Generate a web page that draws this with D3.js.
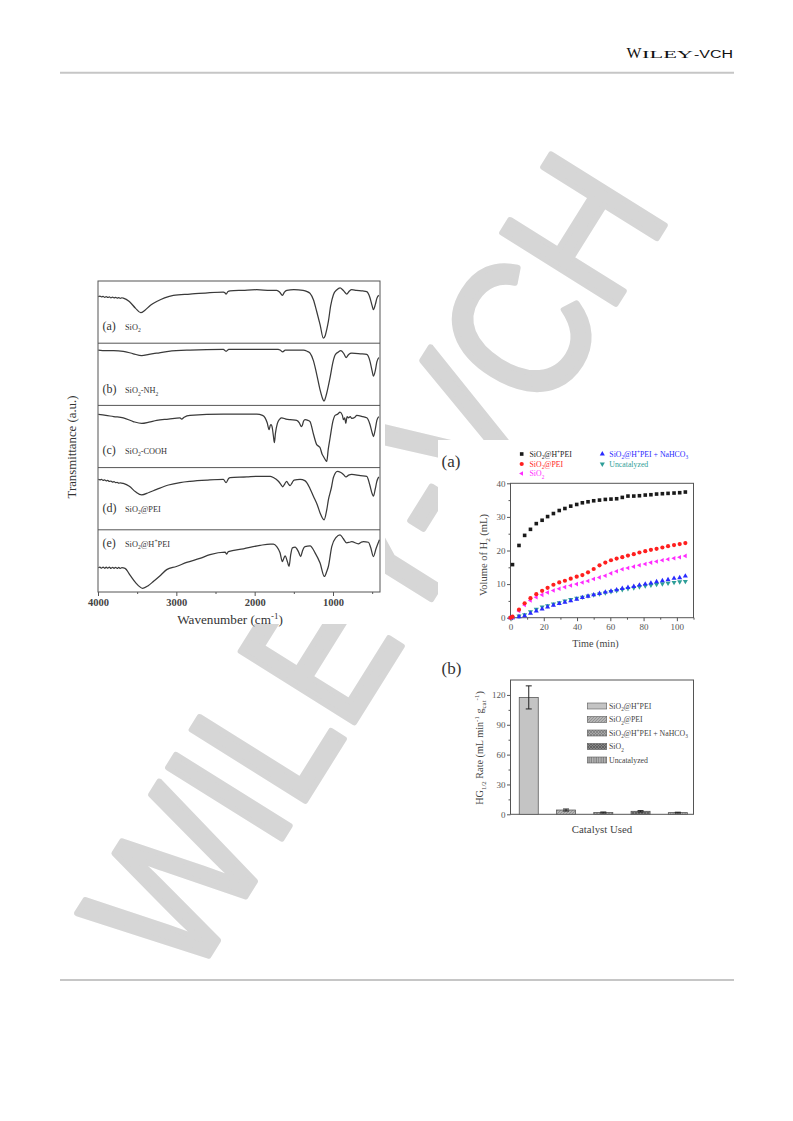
<!DOCTYPE html>
<html><head><meta charset="utf-8">
<script src="https://cdn.jsdelivr.net/npm/d3@7"></script>
<style>body{margin:0;background:#fff}svg{display:block}</style>
</head><body><div id="c"></div>
<script>
// ---------------- DATA ----------------
const ftirTags = ["(a)","(b)","(c)","(d)","(e)"];
const ftirNames = ["SiO_{2}","SiO_{2}-NH_{2}","SiO_{2}-COOH","SiO_{2}@PEI","SiO_{2}@H^{+}PEI"];
const ftirXTicks = [4000,3000,2000,1000];
const ftirMinorTicks = [3500,2500,1500,500];
// [wavenumber, relative transmittance within panel]
const specA = [[3996,0.75],[3975,0.757],[3955,0.745],[3935,0.752],[3915,0.738],[3895,0.748],[3875,0.735],[3855,0.744],[3835,0.73],[3815,0.74],[3795,0.728],[3775,0.737],[3755,0.725],[3735,0.733],[3715,0.722],[3695,0.73],[3677,0.725],[3600,0.67],[3520,0.56],[3455,0.49],[3400,0.53],[3330,0.61],[3251,0.67],[3150,0.73],[3038,0.77],[2825,0.79],[2600,0.81],[2400,0.82],[2380,0.81],[2365,0.79],[2340,0.83],[2314,0.84],[2150,0.85],[1974,0.86],[1800,0.85],[1718,0.85],[1680,0.82],[1646,0.77],[1620,0.82],[1590,0.85],[1500,0.86],[1382,0.85],[1330,0.83],[1293,0.80],[1250,0.70],[1208,0.51],[1165,0.30],[1123,0.08],[1100,0.12],[1080,0.22],[1059,0.35],[1030,0.60],[995,0.78],[950,0.86],[910,0.89],[870,0.85],[825,0.79],[790,0.84],[761,0.86],[700,0.85],[620,0.84],[570,0.83],[530,0.74],[500,0.60],[484,0.54],[460,0.62],[440,0.72],[416,0.77]];
const specB = [[3996,0.89],[3900,0.88],[3800,0.88],[3677,0.87],[3550,0.83],[3442,0.80],[3350,0.82],[3251,0.84],[3100,0.87],[2825,0.89],[2400,0.90],[2365,0.87],[2330,0.90],[1974,0.90],[1700,0.90],[1676,0.89],[1642,0.86],[1610,0.89],[1378,0.89],[1330,0.87],[1293,0.84],[1250,0.72],[1208,0.50],[1165,0.25],[1130,0.10],[1114,0.07],[1090,0.15],[1037,0.45],[1000,0.70],[973,0.81],[930,0.86],[901,0.88],[860,0.83],[833,0.77],[800,0.82],[761,0.84],[650,0.83],[569,0.82],[530,0.72],[500,0.55],[484,0.47],[460,0.56],[440,0.70],[416,0.77]];
const specC = [[3996,0.855],[3900,0.84],[3800,0.82],[3677,0.80],[3550,0.74],[3442,0.71],[3350,0.73],[3251,0.76],[3100,0.78],[2953,0.80],[2932,0.78],[2900,0.81],[2825,0.84],[2400,0.86],[1974,0.86],[1900,0.84],[1867,0.80],[1840,0.72],[1816,0.61],[1800,0.68],[1791,0.69],[1775,0.64],[1760,0.50],[1748,0.40],[1735,0.55],[1710,0.71],[1680,0.78],[1655,0.80],[1600,0.78],[1548,0.77],[1463,0.76],[1430,0.72],[1405,0.66],[1391,0.68],[1375,0.75],[1357,0.77],[1320,0.76],[1293,0.74],[1250,0.54],[1208,0.37],[1180,0.34],[1165,0.32],[1140,0.22],[1123,0.18],[1095,0.12],[1080,0.10],[1060,0.30],[1037,0.48],[1000,0.75],[973,0.84],[940,0.86],[910,0.89],[880,0.84],[867,0.77],[850,0.80],[837,0.71],[820,0.82],[803,0.80],[780,0.82],[761,0.79],[720,0.81],[697,0.84],[620,0.82],[569,0.80],[530,0.70],[500,0.56],[484,0.50],[460,0.62],[440,0.76],[416,0.82]];
const specD = [[3996,0.81],[3975,0.803],[3955,0.81],[3935,0.795],[3915,0.802],[3895,0.786],[3875,0.793],[3855,0.777],[3835,0.784],[3815,0.768],[3795,0.774],[3775,0.758],[3755,0.764],[3735,0.75],[3715,0.755],[3677,0.745],[3600,0.70],[3520,0.61],[3442,0.56],[3350,0.60],[3251,0.65],[3100,0.72],[2953,0.76],[2825,0.78],[2600,0.80],[2400,0.81],[2365,0.76],[2330,0.83],[2314,0.84],[2100,0.85],[1974,0.86],[1800,0.86],[1761,0.84],[1697,0.78],[1660,0.72],[1642,0.69],[1615,0.74],[1591,0.78],[1570,0.74],[1548,0.71],[1520,0.76],[1497,0.80],[1420,0.81],[1360,0.79],[1335,0.76],[1293,0.66],[1250,0.54],[1200,0.40],[1165,0.27],[1114,0.16],[1080,0.32],[1059,0.48],[1020,0.68],[995,0.84],[944,0.94],[900,0.92],[867,0.89],[833,0.85],[800,0.88],[761,0.89],[650,0.87],[569,0.86],[530,0.72],[500,0.58],[484,0.54],[460,0.66],[440,0.78],[416,0.85]];
const specE = [[3996,0.39],[3975,0.398],[3955,0.383],[3935,0.40],[3915,0.381],[3895,0.398],[3875,0.382],[3855,0.40],[3835,0.38],[3815,0.396],[3795,0.381],[3775,0.397],[3755,0.38],[3735,0.394],[3715,0.381],[3695,0.39],[3655,0.38],[3591,0.27],[3520,0.15],[3430,0.06],[3360,0.10],[3293,0.17],[3200,0.27],[3123,0.36],[3000,0.41],[2868,0.475],[2700,0.54],[2570,0.60],[2378,0.64],[2357,0.61],[2336,0.65],[2144,0.695],[1931,0.75],[1800,0.77],[1761,0.77],[1718,0.73],[1676,0.63],[1646,0.49],[1625,0.55],[1612,0.58],[1580,0.48],[1561,0.41],[1540,0.60],[1518,0.71],[1484,0.72],[1442,0.65],[1412,0.57],[1390,0.66],[1357,0.73],[1293,0.74],[1229,0.63],[1165,0.465],[1110,0.25],[1080,0.33],[1059,0.41],[1016,0.73],[960,0.88],[910,0.92],[870,0.86],[825,0.79],[790,0.80],[761,0.81],[676,0.775],[640,0.80],[612,0.81],[548,0.80],[520,0.72],[484,0.57],[450,0.70],[407,0.84]];

// H2 evolution (a)
const timeMin = [0,1.2,5.1,8.5,12,15.5,19,22.3,25.8,29.3,32.7,36.2,39.8,43.2,46.6,50,53.5,57,60.4,63.8,67.2,70.6,74.1,77.5,81,84.4,87.8,91.3,94.7,98.3,101.7,105.1];
const volHPEI = [null,15.8,21.5,24.5,26.3,28.0,29.0,30.1,31.0,31.9,32.5,33.2,33.7,34.2,34.5,34.8,35.0,35.2,35.3,35.4,35.8,36.2,36.2,36.3,36.5,36.6,36.8,36.9,37.0,37.1,37.2,37.4];
const volPEI = [0,0.3,2.4,4.3,5.8,7.0,8.0,8.9,9.8,10.5,11.0,11.6,12.2,12.7,13.5,14.5,15.6,16.4,17.1,17.6,18.0,18.5,18.9,19.4,19.8,20.2,20.5,20.9,21.3,21.6,21.9,22.2];
const volSiO2 = [0,0.2,2.0,3.8,5.1,6.1,6.8,7.5,8.1,8.6,9.1,9.6,10.0,10.5,10.9,11.5,12.0,12.5,13.2,13.8,14.4,14.8,15.2,15.6,16.0,16.4,16.7,17.1,17.4,17.7,18.0,18.4];
const volNaHCO3 = [0,0,0.3,0.6,1.3,2.0,2.6,3.2,3.7,4.2,4.6,5.0,5.5,6.0,6.4,6.8,7.2,7.6,7.9,8.3,8.7,9.0,9.3,9.7,10.0,10.3,10.7,11.0,11.3,11.7,11.9,12.4];
const volUncat = [0,0,0.5,0.9,1.8,2.5,3.2,3.6,4.1,4.5,5.0,5.4,5.8,6.1,6.5,6.8,7.1,7.4,7.8,8.1,8.4,8.7,8.9,9.2,9.5,9.7,9.9,10.1,10.3,10.5,10.7,10.8];
const seriesNames = ["SiO_{2}@H^{+}PEI","SiO_{2}@PEI","SiO_{2}","SiO_{2}@H^{+}PEI + NaHCO_{3}","Uncatalyzed"];
const timeTicks = [0,20,40,60,80,100];
const volTicks = [0,10,20,30,40];

// HG1/2 rate (b)
const barCats = ["SiO_{2}@H^{+}PEI","SiO_{2}@PEI","SiO_{2}@H^{+}PEI + NaHCO_{3}","SiO_{2}","Uncatalyzed"];
const barRates = [117.5,4.3,1.8,3.0,1.7];
const barErrors = [11.6,1.0,0.5,0.7,0.4];
const rateTicks = [0,30,60,90,120];

// ---------------- DRAWING ----------------
const W = 793, H = 1121;
const SERIF = "'Liberation Serif','Times New Roman',serif";
const SANS = "'Liberation Sans',Arial,sans-serif";
const svg = d3.select("#c").append("svg").attr("width", W).attr("height", H);
svg.append("rect").attr("width", W).attr("height", H).attr("fill", "#fff");

function rich(sel, str, fs) {
  const parts = str.split(/(_\{[^}]*\}|\^\{[^}]*\})/).filter(s => s.length);
  let shift = 0;
  parts.forEach(p => {
    let target = 0, size = fs, txt = p;
    if (p.startsWith("_{")) { target = fs * 0.3; size = fs * 0.68; txt = p.slice(2, -1); }
    else if (p.startsWith("^{")) { target = -fs * 0.4; size = fs * 0.68; txt = p.slice(2, -1); }
    sel.append("tspan").attr("dy", target - shift).attr("font-size", size).text(txt);
    shift = target;
  });
  return sel;
}

// header / footer
svg.append("text").attr("x", 626.5).attr("y", 58.3).attr("font-family", SERIF).attr("font-size", 14)
  .attr("textLength", 15).attr("lengthAdjust", "spacingAndGlyphs").attr("fill", "#111").text("W");
svg.append("text").attr("x", 642).attr("y", 58.3).attr("font-family", SERIF).attr("font-size", 11.2)
  .attr("textLength", 51).attr("lengthAdjust", "spacingAndGlyphs").attr("fill", "#111").text("ILEY");
svg.append("text").attr("x", 694).attr("y", 58.3).attr("font-family", SANS).attr("font-size", 10)
  .attr("textLength", 39).attr("lengthAdjust", "spacingAndGlyphs").attr("fill", "#111").text("-VCH");
svg.append("line").attr("x1", 60).attr("x2", 734).attr("y1", 72.7).attr("y2", 72.7).attr("stroke", "#c6c6c6").attr("stroke-width", 2);
svg.append("line").attr("x1", 60).attr("x2", 734).attr("y1", 980).attr("y2", 980).attr("stroke", "#c6c6c6").attr("stroke-width", 2);

// watermark
svg.append("text").attr("transform", "translate(190,985) rotate(-58) scale(0.9,1.05)")
  .attr("font-family", SANS).attr("font-size", 185).attr("fill", "#d6d6d6")
  .attr("stroke", "#d6d6d6").attr("stroke-width", 6).attr("stroke-linejoin", "round").text("WILEY-VCH");

// image backgrounds covering watermark
svg.append("rect").attr("x", 60).attr("y", 268).attr("width", 325).attr("height", 356).attr("fill", "#fff");
svg.append("rect").attr("x", 438).attr("y", 440).attr("width", 282).attr("height", 400).attr("fill", "#fff");

// ---------- FTIR ----------
const fx = d3.scaleLinear().domain([4000, 400]).range([98, 380]);
const bands = d3.scaleBand().domain(d3.range(5)).range([281, 592]);
const spectra = [specA, specB, specC, specD, specE];
const labelDy = [49, 50, 48.5, 44, 17];
const gF = svg.append("g");
spectra.forEach((sp, i) => {
  const top = bands(i), bot = top + bands.bandwidth();
  const fy = d3.scaleLinear().domain([0, 1]).range([bot, top]);
  gF.append("path").datum(sp).attr("fill", "none").attr("stroke", "#3a3a3a").attr("stroke-width", 1.25)
    .attr("d", d3.line().x(d => fx(d[0])).y(d => fy(d[1])).curve(d3.curveMonotoneX));
  if (i > 0) gF.append("line").attr("x1", 98).attr("x2", 380).attr("y1", top).attr("y2", top).attr("stroke", "#555").attr("stroke-width", 1);
  const t = gF.append("text").attr("x", 102.5).attr("y", top + labelDy[i]).attr("font-family", SERIF).attr("fill", "#333");
  t.append("tspan").attr("font-size", 12).text(ftirTags[i]);
  const n = gF.append("text").attr("x", 125).attr("y", top + labelDy[i]).attr("font-family", SERIF).attr("fill", "#333");
  rich(n, ftirNames[i], 8.3);
});
gF.append("rect").attr("x", 98).attr("y", 281).attr("width", 282).attr("height", 311).attr("fill", "none").attr("stroke", "#555").attr("stroke-width", 1);
const fAxis = gF.append("g").attr("transform", "translate(0,592)")
  .call(d3.axisBottom(fx).tickValues(ftirXTicks).tickSize(4).tickPadding(3).tickFormat(d3.format("d")));
fAxis.select(".domain").remove();
fAxis.selectAll("line").attr("stroke", "#555");
fAxis.selectAll("text").attr("font-family", SERIF).attr("font-size", 10.5).attr("font-weight", "bold").attr("fill", "#444");
gF.append("g").attr("transform", "translate(0,592)").call(d3.axisBottom(fx).tickValues(ftirMinorTicks).tickSize(2).tickFormat(""))
  .call(g => { g.select(".domain").remove(); g.selectAll("line").attr("stroke", "#555"); });
rich(gF.append("text").attr("x", 230).attr("y", 624).attr("text-anchor", "middle").attr("font-family", SERIF).attr("fill", "#333"), "Wavenumber (cm^{-1})", 13.2);
gF.append("text").attr("transform", "translate(76,447) rotate(-90)").attr("text-anchor", "middle")
  .attr("font-family", SERIF).attr("font-size", 12.8).attr("fill", "#333").text("Transmittance (a.u.)");

// ---------- Chart (a) ----------
const ax = d3.scaleLinear().domain([0, 110]).range([510.5, 693.5]);
const ay = d3.scaleLinear().domain([0, 40]).range([617.7, 483.3]);
const gA = svg.append("g");
gA.append("text").attr("x", 441.5).attr("y", 466.5).attr("font-family", SERIF).attr("font-size", 17).attr("fill", "#333").text("(a)");
gA.append("rect").attr("x", 510.5).attr("y", 483.3).attr("width", 183).attr("height", 134.4).attr("fill", "none").attr("stroke", "#555").attr("stroke-width", 1);
function styleAxis(g) { g.select(".domain").remove(); g.selectAll("line").attr("stroke", "#555"); g.selectAll("text").attr("font-family", SERIF).attr("font-size", 9).attr("fill", "#555"); }
gA.append("g").attr("transform", "translate(0,617.7)").call(d3.axisBottom(ax).tickValues(timeTicks).tickSize(3.5).tickPadding(2)).call(styleAxis);
gA.append("g").attr("transform", "translate(0,617.7)").call(d3.axisBottom(ax).tickValues([10,30,50,70,90,110]).tickSize(2).tickFormat("")).call(styleAxis);
gA.append("g").attr("transform", "translate(510.5,0)").call(d3.axisLeft(ay).tickValues(volTicks).tickSize(3.5).tickPadding(1.5)).call(styleAxis);
gA.append("g").attr("transform", "translate(510.5,0)").call(d3.axisLeft(ay).tickValues([5,15,25,35]).tickSize(2).tickFormat("")).call(styleAxis);
gA.append("text").attr("x", 595.5).attr("y", 646.7).attr("text-anchor", "middle").attr("font-family", SERIF).attr("font-size", 10.2).attr("fill", "#444").text("Time (min)");
rich(gA.append("text").attr("transform", "translate(487,555) rotate(-90)").attr("text-anchor", "middle").attr("font-family", SERIF).attr("fill", "#444"), "Volume of H_{2} (mL)", 10.5);

const colors = ["#1a1a1a", "#ff1f1f", "#ff2bff", "#2a2aff", "#2e9e98"];
const seriesVals = [volHPEI, volPEI, volSiO2, volNaHCO3, volUncat];
function marker(g, k, x, y) {
  if (k === 0) g.append("rect").attr("x", x - 1.8).attr("y", y - 1.8).attr("width", 3.6).attr("height", 3.6).attr("fill", colors[k]);
  else if (k === 1) g.append("circle").attr("cx", x).attr("cy", y).attr("r", 2.1).attr("fill", colors[k]);
  else {
    const rot = k === 2 ? -90 : (k === 3 ? 0 : 180);
    g.append("path").attr("d", d3.symbol(d3.symbolTriangle, k === 2 ? 9 : 11)()).attr("transform", `translate(${x},${y}) rotate(${rot})`).attr("fill", colors[k]);
  }
}
const gPts = gA.append("g");
[4, 3, 2, 1, 0].forEach(k => {
  seriesVals[k].forEach((v, i) => { if (v !== null) marker(gPts, k, ax(timeMin[i]), ay(v)); });
});
// legend (a)
const legPos = [[521.7, 454, 529.5], [521.7, 464, 529.5], [521.7, 473.5, 529.5], [602.3, 454, 609.3], [602.3, 464, 609.3]];
seriesNames.forEach((nm, k) => {
  const [mx, my, tx] = legPos[k];
  marker(gA, k, mx, my);
  rich(gA.append("text").attr("x", tx).attr("y", my + 2.7).attr("font-family", SERIF).attr("fill", colors[k]), nm, 7.8);
});

// ---------- Chart (b) ----------
const bx = d3.scaleBand().domain(barCats).range([510.5, 693.5]).paddingInner(0.49).paddingOuter(0.2).align(0.587);
const by = d3.scaleLinear().domain([0, 135]).range([814.3, 680]);
const gB = svg.append("g");
gB.append("text").attr("x", 441.5).attr("y", 673.5).attr("font-family", SERIF).attr("font-size", 17).attr("fill", "#333").text("(b)");
const defs = svg.append("defs");
function pat(id, size, bg, path, col) {
  const p = defs.append("pattern").attr("id", id).attr("patternUnits", "userSpaceOnUse").attr("width", size).attr("height", size);
  p.append("rect").attr("width", size).attr("height", size).attr("fill", bg);
  if (path) p.append("path").attr("d", path).attr("stroke", col).attr("stroke-width", 0.8).attr("fill", "none");
}
pat("p1", 4, "#c4c4c4", null, null);
pat("p2", 3, "#b4b4b4", "M0,3 L3,0 M-1,1 L1,-1 M2,4 L4,2", "#8a8a8a");
pat("p3", 3, "#a6a6a6", "M0,3 L3,0 M0,0 L3,3", "#7d7d7d");
pat("p4", 3, "#858585", "M0,3 L3,0 M0,0 L3,3", "#595959");
pat("p5", 2.4, "#b6b6b6", "M1,0 L1,2.4", "#707070");
const fills = ["url(#p1)", "url(#p2)", "url(#p3)", "url(#p4)", "url(#p5)"];
gB.append("rect").attr("x", 510.5).attr("y", 680).attr("width", 183).attr("height", 134.3).attr("fill", "none").attr("stroke", "#555").attr("stroke-width", 1);
barCats.forEach((c, i) => {
  const x0 = bx(c), w = bx.bandwidth();
  gB.append("rect").attr("x", x0).attr("y", by(barRates[i])).attr("width", w).attr("height", by(0) - by(barRates[i]))
    .attr("fill", fills[i]).attr("stroke", "#5a5a5a").attr("stroke-width", 0.8);
  const cx = x0 + w / 2;
  const hi = by(barRates[i] + barErrors[i]), lo = by(barRates[i] - barErrors[i]);
  gB.append("line").attr("x1", cx).attr("x2", cx).attr("y1", hi).attr("y2", lo).attr("stroke", "#222").attr("stroke-width", 1);
  [hi, lo].forEach(yy => gB.append("line").attr("x1", cx - 3).attr("x2", cx + 3).attr("y1", yy).attr("y2", yy).attr("stroke", "#222").attr("stroke-width", 1));
});
gB.append("g").attr("transform", "translate(510.5,0)").call(d3.axisLeft(by).tickValues(rateTicks).tickSize(3.5).tickPadding(1.5)).call(styleAxis);
gB.append("g").attr("transform", "translate(510.5,0)").call(d3.axisLeft(by).tickValues([15, 45, 75, 105]).tickSize(2).tickFormat("")).call(styleAxis);
gB.append("text").attr("x", 602).attr("y", 833.3).attr("text-anchor", "middle").attr("font-family", SERIF).attr("font-size", 10.8).attr("fill", "#444").text("Catalyst Used");
rich(gB.append("text").attr("transform", "translate(483,748) rotate(-90)").attr("text-anchor", "middle").attr("font-family", SERIF).attr("fill", "#444"),
  "HG_{1/2} Rate (mL min^{-1} g_{cat}^{-1})", 10.2);
const legRowY = [706, 719.5, 733, 746.5, 760];
barCats.forEach((c, i) => {
  gB.append("rect").attr("x", 587.3).attr("y", legRowY[i] - 3).attr("width", 19.4).attr("height", 6)
    .attr("fill", fills[i]).attr("stroke", "#5a5a5a").attr("stroke-width", 0.6);
  rich(gB.append("text").attr("x", 609).attr("y", legRowY[i] + 2.7).attr("font-family", SERIF).attr("fill", "#444"), c, 7.8);
});
</script></body></html>
